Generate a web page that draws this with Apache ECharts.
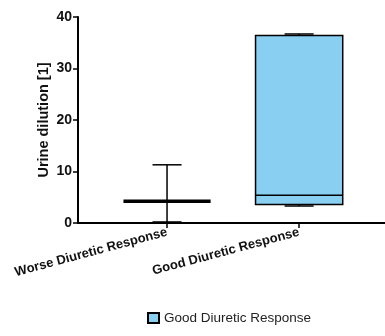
<!DOCTYPE html>
<html>
<head>
<meta charset="utf-8">
<script src="https://cdn.jsdelivr.net/npm/echarts@6/dist/echarts.min.js"></script>
<style>
  html, body { margin: 0; padding: 0; background: #fff; }
  #chart { width: 385px; height: 336px; }
</style>
</head>
<body>
<div id="chart"></div>
<script>
// box data
var categories = ['Worse Diuretic Response', 'Good Diuretic Response']
var mins = [0.2, 3.3]
var q1s = [4.2, 3.6]
var medians = [4.2, 5.4]
var q3s = [4.2, 36.4]
var maxs = [11.3, 36.7]
var yTicks = [0, 10, 20, 30, 40]

var mychart = echarts.init(document.getElementById('chart'))

function boxRow (i) {
  return [i, mins[i], q1s[i], medians[i], q3s[i], maxs[i]]
}

function renderBox (params, api) {
  var x = api.value(0)
  var band = api.size([1, 0])[0]
  var half = band * 0.33
  var cap = band * 0.11
  var pMin = api.coord([x, api.value(1)])
  var pQ1 = api.coord([x, api.value(2)])
  var pMed = api.coord([x, api.value(3)])
  var pQ3 = api.coord([x, api.value(4)])
  var pMax = api.coord([x, api.value(5)])
  var cx = pMed[0]
  var flat = Math.abs(pQ1[1] - pQ3[1]) < 1
  var line = { stroke: '#000', lineWidth: 1.5 }
  var children = [
    { type: 'line', shape: { x1: cx, y1: pMax[1], x2: cx, y2: pQ3[1] }, style: line },
    { type: 'line', shape: { x1: cx, y1: pQ1[1], x2: cx, y2: pMin[1] }, style: line },
    { type: 'line', shape: { x1: cx - cap, y1: pMax[1], x2: cx + cap, y2: pMax[1] }, style: line },
    { type: 'line', shape: { x1: cx - cap, y1: pMin[1], x2: cx + cap, y2: pMin[1] }, style: line }
  ]
  if (!flat) {
    children.push({
      type: 'rect',
      shape: { x: cx - half, y: pQ3[1], width: half * 2, height: pQ1[1] - pQ3[1] },
      style: { fill: api.visual('color'), stroke: '#000', lineWidth: 1.5 }
    })
  }
  children.push({
    type: 'line',
    shape: { x1: cx - half, y1: pMed[1], x2: cx + half, y2: pMed[1] },
    style: { stroke: '#000', lineWidth: flat ? 3.5 : 1.5 }
  })
  return { type: 'group', children: children }
}

var option = {
  animation: false,
  grid: { left: 78, right: 0, top: 17, bottom: 113 },
  legend: {
    data: ['Good Diuretic Response'],
    bottom: 6,
    left: 142,
    icon: 'rect',
    itemWidth: 11,
    itemHeight: 10,
    itemGap: 6,
    textStyle: { fontFamily: 'Liberation Sans, Arial', fontSize: 13.5, color: '#222' }
  },
  xAxis: {
    type: 'value',
    min: -0.674,
    max: 1.65,
    splitLine: { show: false },
    axisLine: { show: true, lineStyle: { color: '#000', width: 2 } },
    axisTick: { show: true, customValues: [0, 1], length: 5, lineStyle: { color: '#000', width: 1.5 } },
    axisLabel: {
      customValues: [0, 1],
      rotate: 15,
      margin: 9,
      formatter: function (v) { return categories[Math.round(v)] },
      fontFamily: 'Liberation Sans, Arial',
      fontWeight: 'bold',
      fontSize: 13,
      color: '#111'
    }
  },
  yAxis: {
    type: 'value',
    min: 0,
    max: 40,
    interval: 10,
    name: 'Urine dilution [1]',
    nameLocation: 'middle',
    nameGap: 27,
    nameMoveOverlap: false,
    nameTextStyle: { fontFamily: 'Liberation Sans, Arial', fontWeight: 'bold', fontSize: 14.5, color: '#111' },
    splitLine: { show: false },
    axisLine: { show: true, onZero: false, lineStyle: { color: '#000', width: 2 } },
    axisTick: { show: true, length: 5, lineStyle: { color: '#000', width: 1.5 } },
    axisLabel: {
      margin: 6,
      formatter: function (v) { return yTicks.indexOf(v) >= 0 ? String(v) : '' },
      fontFamily: 'Liberation Sans, Arial',
      fontWeight: 'bold',
      fontSize: 14,
      color: '#111'
    }
  },
  series: [{
    type: 'custom',
    name: 'Worse Diuretic Response',
    renderItem: renderBox,
    itemStyle: { color: '#fff' },
    encode: { x: 0, y: [1, 2, 3, 4, 5] },
    data: [boxRow(0)]
  }, {
    type: 'custom',
    name: 'Good Diuretic Response',
    renderItem: renderBox,
    itemStyle: { color: '#88CFF2', borderColor: '#000', borderWidth: 1 },
    encode: { x: 0, y: [1, 2, 3, 4, 5] },
    data: [boxRow(1)]
  }]
}
mychart.setOption(option)
</script>
</body>
</html>
